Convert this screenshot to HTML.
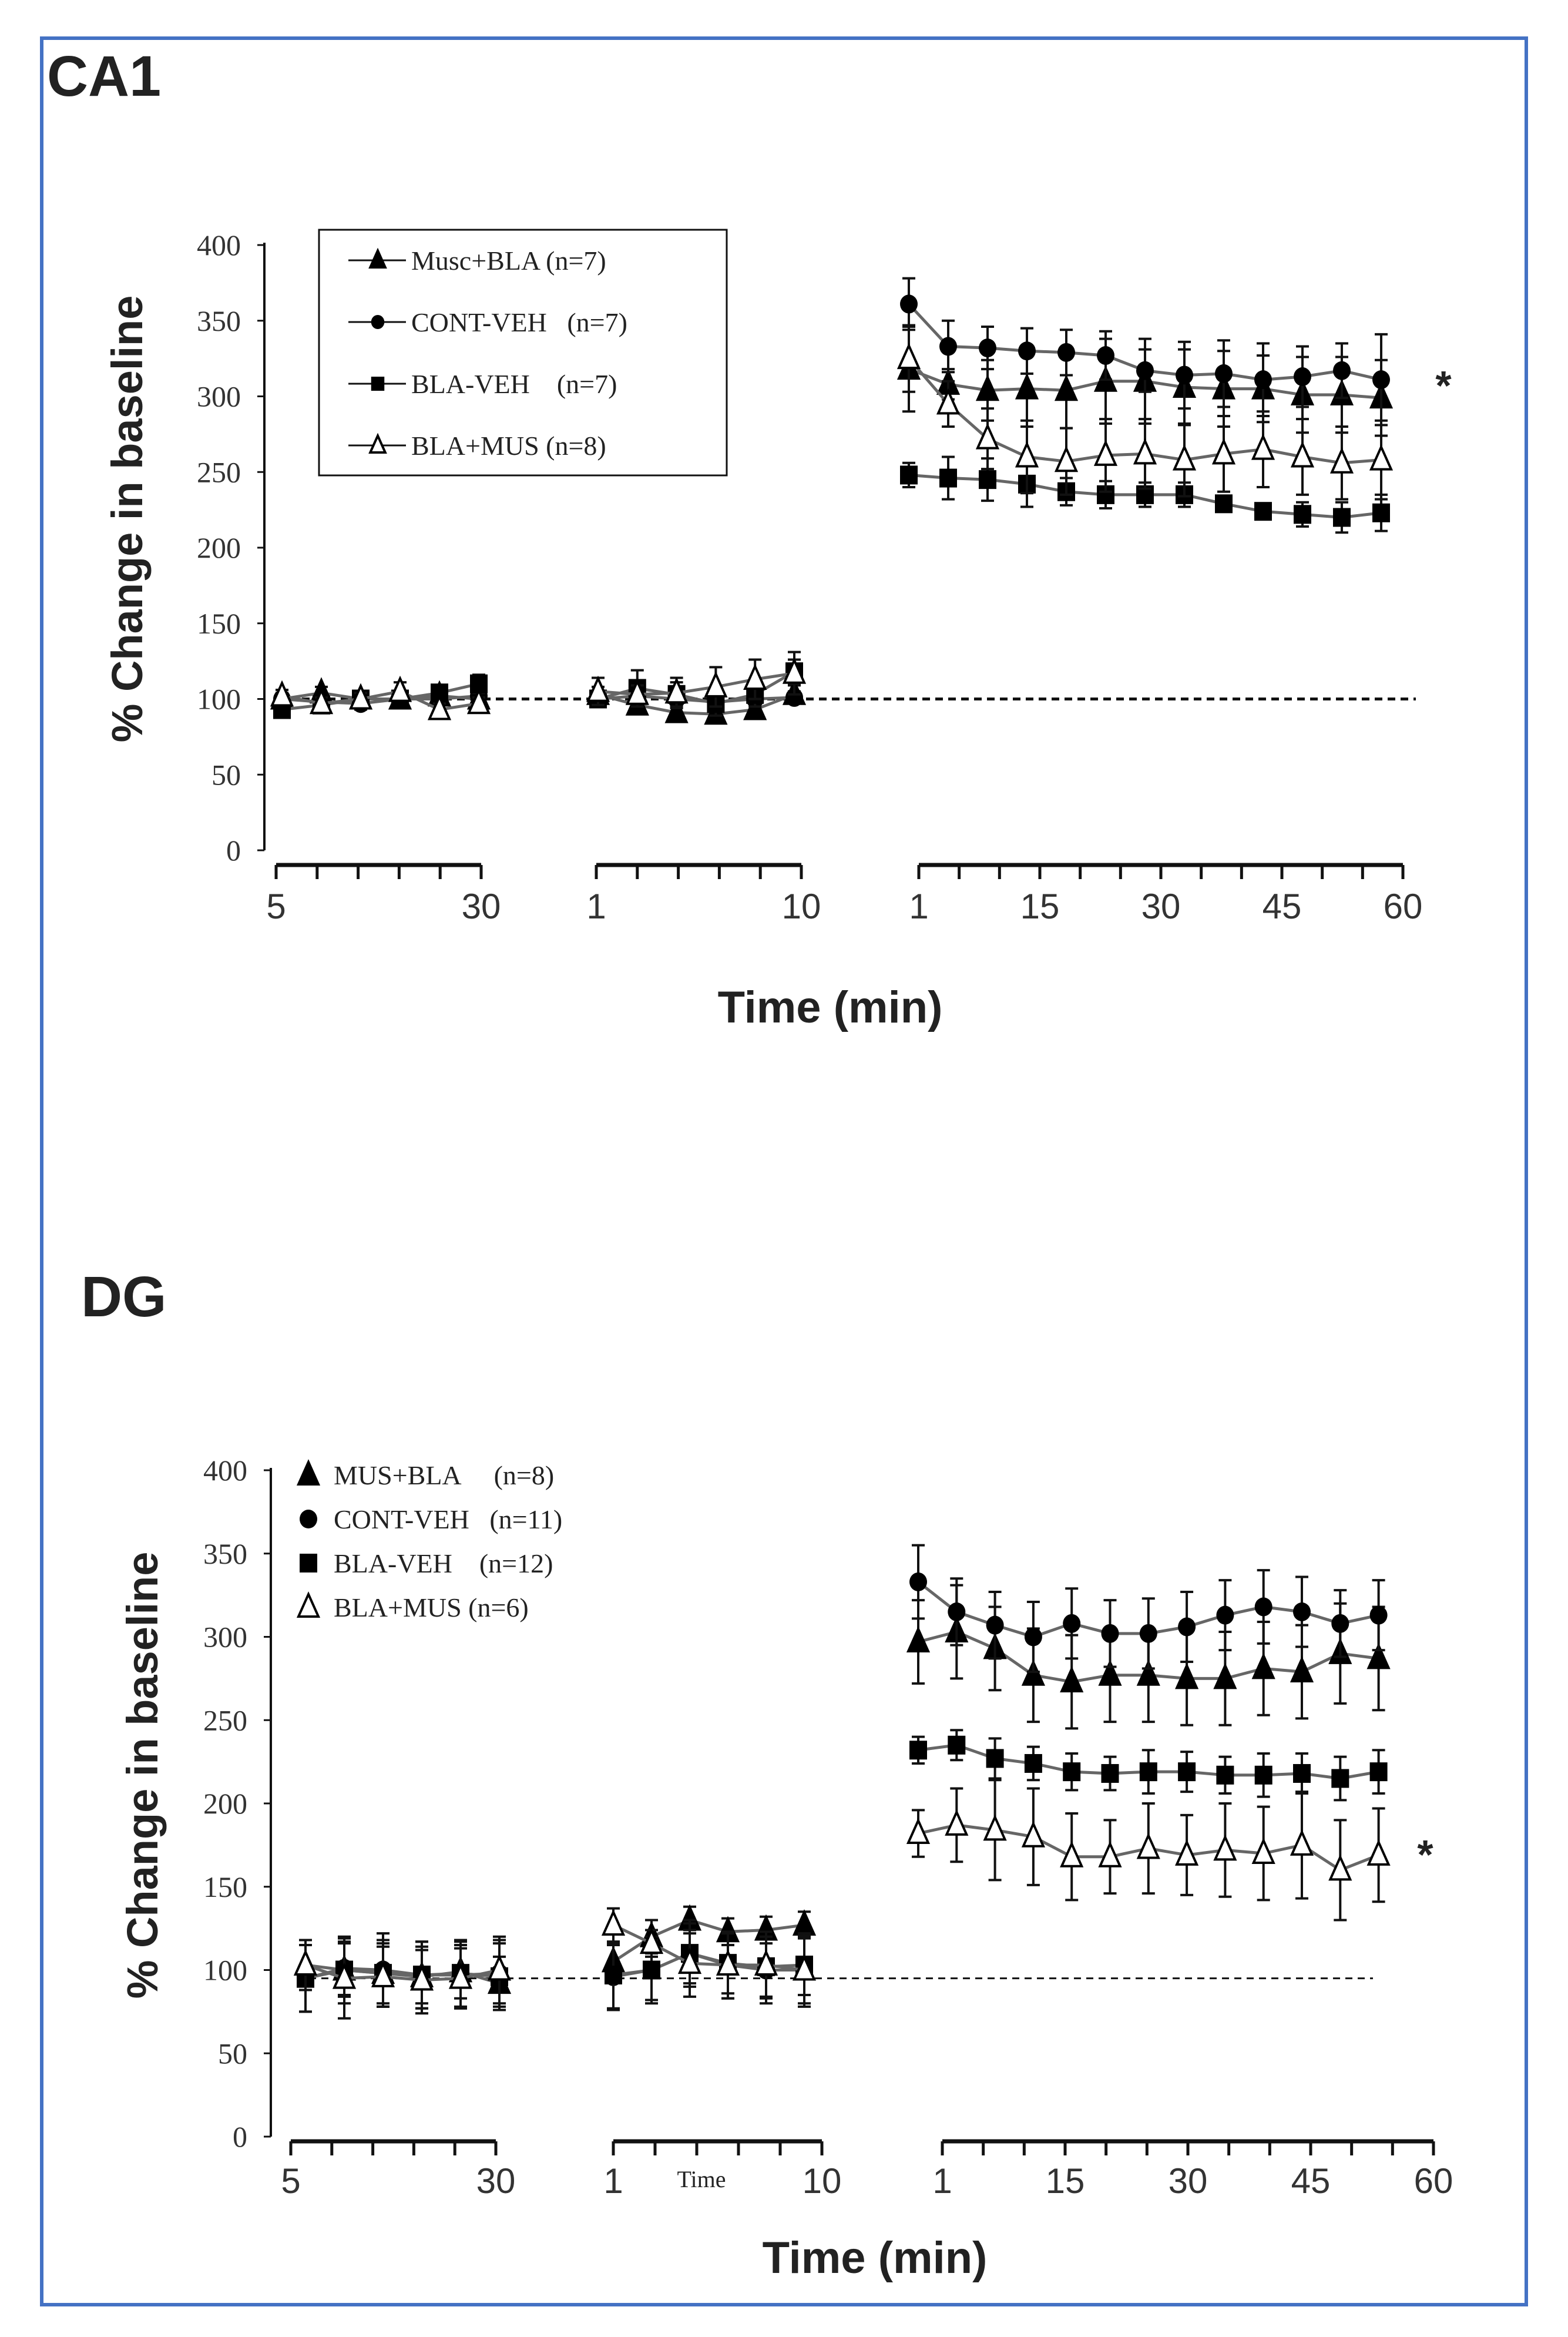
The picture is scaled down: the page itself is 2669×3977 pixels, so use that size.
<!DOCTYPE html>
<html><head><meta charset="utf-8"><style>
html,body{margin:0;padding:0;background:#fff;}
svg{display:block;}
.tick{font-family:"Liberation Serif",serif;font-size:50px;fill:#333;}
.xt{font-family:"Liberation Sans",sans-serif;font-size:60px;fill:#333;}
.leg{font-family:"Liberation Serif",serif;font-size:46px;fill:#222;white-space:pre;}
.ttl{font-family:"Liberation Sans",sans-serif;font-weight:bold;fill:#222;}
</style></head><body>
<svg id="fig" width="2669" height="3977" viewBox="0 0 2669 3977" xmlns="http://www.w3.org/2000/svg">
<rect x="71" y="65" width="2527" height="3857" fill="none" stroke="#4472c4" stroke-width="6"/>
<text x="80" y="163" class="ttl" font-size="97">CA1</text>
<text x="138" y="2240" class="ttl" font-size="97">DG</text>
<g id="ca1"></g>
<g id="dg"></g>
</svg>
<script>
// ---------- CA1 data (6 baseline pts, 6 pts, 13 post pts) ----------
const yTicks = [0,50,100,150,200,250,300,350,400];
const seg1Labels = ["5","30"];
const seg2Labels = ["1","10"];
const seg3Labels = ["1","15","30","45","60"];
const ca1Musc   = [100,104,100,100,102,100, 103,96,91,90,93,103, 318,308,304,305,304,310,310,306,305,305,301,301,299];
const ca1MuscErr= [4,4,4,4,4,4, 5,6,6,6,6,6, 28,10,20,25,25,28,28,25,25,22,25,25,25];
const ca1Cont   = [100,98,97,100,100,102, 100,102,100,98,100,101, 361,333,332,330,329,327,317,314,315,311,313,317,311];
const ca1ContErr= [4,4,4,4,4,4, 4,4,4,4,4,4, 17,17,14,15,15,16,14,22,22,24,20,18,30];
const ca1Bla    = [93,96,100,100,104,110, 100,107,103,97,103,118, 248,246,245,242,237,235,235,235,229,224,222,220,223];
const ca1BlaErr = [5,5,5,5,5,6, 5,12,8,8,8,8, 8,14,14,15,9,9,8,8,5,5,8,10,12];
const ca1BlaMus = [102,97,100,105,93,97, 105,103,104,108,113,117, 325,295,272,260,257,261,262,258,262,265,260,256,258];
const ca1BlaMusErr=[4,4,4,6,4,4, 9,6,10,13,13,14, 22,15,20,24,22,24,23,24,25,25,25,24,26];
// ---------- DG data ----------
const dgMus     = [103,100,98,96,99,92, 105,120,130,123,124,127, 297,303,293,277,273,277,277,275,275,281,279,290,287];
const dgMusErr  = [15,16,18,16,16,16, 10,10,8,8,8,8, 25,28,25,28,28,28,28,28,28,28,28,30,31];
const dgCont    = [95,101,100,97,97,98, 96,100,110,103,100,100, 333,315,307,300,308,302,302,306,313,318,315,308,313];
const dgContErr = [20,16,22,20,20,20, 20,20,20,20,20,20, 22,20,20,21,21,20,21,21,21,22,21,20,21];
const dgBla     = [95,100,98,97,98,96, 97,100,110,104,102,103, 232,235,227,224,219,218,219,219,217,217,218,215,219];
const dgBlaErr  = [20,20,20,20,20,20, 20,18,18,18,18,18, 8,9,12,10,11,10,13,12,11,13,12,13,13];
const dgBlaMus  = [103,95,96,94,95,100, 127,116,104,103,103,100, 182,187,184,180,168,168,173,169,172,170,175,160,169];
const dgBlaMusErr=[15,24,18,20,18,20, 10,8,20,20,20,22, 14,22,30,29,26,22,27,24,28,28,32,30,28];
const ca1Baseline = 100;
const dgBaseline = 95;
const ca1Legend = ["Musc+BLA (n=7)","CONT-VEH   (n=7)","BLA-VEH    (n=7)","BLA+MUS (n=8)"];
const dgLegend  = ["MUS+BLA     (n=8)","CONT-VEH   (n=11)","BLA-VEH    (n=12)","BLA+MUS (n=6)"];

const NS="http://www.w3.org/2000/svg";
function mk(parent,tag,attrs,text){
  const e=document.createElementNS(NS,tag);
  for(const k in attrs) e.setAttribute(k,attrs[k]);
  if(text!==undefined) e.textContent=text;
  parent.appendChild(e);return e;
}

function drawChart(g, cfg, series, baseline, legendLabels){
  const yScale=v=>cfg.y0-(v/400)*(cfg.y0-cfg.y400);
  const xScale=i=>{
    if(i<6) return cfg.p1+i*cfg.st1;
    if(i<12) return cfg.p2+(i-6)*cfg.st2;
    return cfg.p3+(i-12)*cfg.st3;
  };
  const ax=mk(g,'line',{x1:cfg.ax,y1:cfg.y400-4,x2:cfg.ax,y2:cfg.y0,stroke:'#111','stroke-width':4});
  
  
  yTicks.forEach(t=>{
    const y=yScale(t);
    const tk=mk(g,'line',{x1:cfg.ax-12,y1:y,x2:cfg.ax,y2:y,stroke:'#111','stroke-width':3});
    
    
    const lb=mk(g,'text',{x:cfg.ax-40,y:y+17,'text-anchor':'end',class:'tick'},String(t));
    
    
  });
  const segs=[[cfg.s1a,cfg.s1b,6,seg1Labels],[cfg.s2a,cfg.s2b,6,seg2Labels],[cfg.s3a,cfg.s3b,13,seg3Labels]];
  segs.forEach((s,si)=>{
    const bar=mk(g,'line',{x1:s[0],y1:cfg.xb,x2:s[1],y2:cfg.xb,stroke:'#111','stroke-width':7});
    
    
    for(let k=0;k<s[2];k++){
      const x=s[0]+k*(s[1]-s[0])/(s[2]-1);
      const t=mk(g,'line',{x1:x,y1:cfg.xb,x2:x,y2:cfg.xb+24,stroke:'#111','stroke-width':5});
      
      
    }
    const labs=s[3];
    labs.forEach((l,li)=>{
      const x=s[0]+li*(s[1]-s[0])/(labs.length-1);
      const tl=mk(g,'text',{x:x,y:cfg.xl,'text-anchor':'middle',class:'xt'},l);
      
      
    });
  });
  const bl=mk(g,'line',{x1:cfg.d1,y1:yScale(baseline),x2:cfg.d2,y2:yScale(baseline),stroke:'#111','stroke-width':cfg.dw,'stroke-dasharray':cfg.dash});
  
  
  series.forEach(sr=>{
    const sg=mk(g,'g',{});
    
    
    [[0,6],[6,12],[12,25]].forEach(r=>{
      let d='';
      for(let i=r[0];i<r[1];i++) d+=(i===r[0]?'M':'L')+xScale(i)+' '+yScale(sr.v[i]);
      const p=mk(sg,'path',{d:d,fill:'none',stroke:'#666','stroke-width':5});
      
      
    });
    sr.v.forEach((v,i)=>{
      const x=xScale(i),y=yScale(v),e=sr.e[i];
      const eb=mk(sg,'path',{d:`M${x} ${yScale(v-e)}L${x} ${yScale(v+e)}M${x-11} ${yScale(v+e)}L${x+11} ${yScale(v+e)}M${x-11} ${yScale(v-e)}L${x+11} ${yScale(v-e)}`,stroke:'#111','stroke-width':4,fill:'none'});
      
      
    });
    sr.v.forEach((v,i)=>{
      const m=marker(sg,sr.shape,xScale(i),yScale(v),1);
      
      
    });
  });
  if(cfg.box){
    const bx=mk(g,'rect',{x:cfg.box[0],y:cfg.box[1],width:cfg.box[2],height:cfg.box[3],fill:'none',stroke:'#111','stroke-width':3});
    
    
  }
  legendLabels.forEach((l,i)=>{
    const y=cfg.ly0+i*cfg.lstep;
    const lg=mk(g,'g',{});
    
    
    if(cfg.lline) mk(lg,'line',{x1:cfg.lm-50,y1:y,x2:cfg.lm+48,y2:y,stroke:'#111','stroke-width':3});
    marker(lg,series[i].shape,cfg.lm,y,cfg.lms);
    mk(lg,'text',{x:cfg.lt,y:y+16,class:'leg'},l);
  });
}
function marker(g,shape,x,y,s){
  if(shape==='circle') return mk(g,'ellipse',{cx:x,cy:y,rx:15*s,ry:16*s,fill:'#000'});
  if(shape==='square') return mk(g,'rect',{x:x-15*s,y:y-16*s,width:30*s,height:32*s,fill:'#000'});
  const fill=shape==='tri'?'#000':'#fff';
  return mk(g,'polygon',{points:`${x},${y-22*s} ${x+17*s},${y+16*s} ${x-17*s},${y+16*s}`,fill:fill,stroke:'#000','stroke-width':4});
}

const ca1Cfg={ax:450,y400:417,y0:1447,xb:1472,xl:1563,
  s1a:470,s1b:819,s2a:1015,s2b:1364,s3a:1564,s3b:2388,
  p1:480,st1:67,p2:1018,st2:66.8,p3:1547,st3:67,
  d1:470,d2:2410,dw:5,dash:'13 9',
  box:[543,391,694,418],ly0:443,lstep:105,lm:643,lms:0.75,lt:700,lline:true};
drawChart(document.getElementById('ca1'),ca1Cfg,[
  {name:'musc-bla',shape:'tri',v:ca1Musc,e:ca1MuscErr},
  {name:'cont-veh',shape:'circle',v:ca1Cont,e:ca1ContErr},
  {name:'bla-veh',shape:'square',v:ca1Bla,e:ca1BlaErr},
  {name:'bla-mus',shape:'open',v:ca1BlaMus,e:ca1BlaMusErr}],ca1Baseline,ca1Legend);

const dgCfg={ax:461,y400:2502,y0:3636,xb:3644,xl:3732,
  s1a:495,s1b:844,s2a:1044,s2b:1399,s3a:1604,s3b:2440,
  p1:520,st1:66,p2:1044,st2:65,p3:1563,st3:65.3,
  d1:505,d2:2337,dw:3,dash:'12 9',
  box:null,ly0:2510,lstep:75,lm:525,lms:1.0,lt:568,lline:false};
drawChart(document.getElementById('dg'),dgCfg,[
  {name:'mus-bla',shape:'tri',v:dgMus,e:dgMusErr},
  {name:'cont-veh',shape:'circle',v:dgCont,e:dgContErr},
  {name:'bla-veh',shape:'square',v:dgBla,e:dgBlaErr},
  {name:'bla-mus',shape:'open',v:dgBlaMus,e:dgBlaMusErr}],dgBaseline,dgLegend);
</script>
<div style="position:absolute;left:0;top:0;width:2669px;height:3977px;pointer-events:none">
<svg width="2669" height="3977" viewBox="0 0 2669 3977" xmlns="http://www.w3.org/2000/svg">
<text transform="translate(242,883) rotate(-90)" text-anchor="middle" class="ttl" font-size="74">% Change in baseline</text>
<text x="1413" y="1740" text-anchor="middle" class="ttl" font-size="76">Time (min)</text>
<text x="2457" y="680" text-anchor="middle" class="ttl" font-size="70">*</text>
<text transform="translate(268,3021) rotate(-90)" text-anchor="middle" class="ttl" font-size="74">% Change in baseline</text>
<text x="1489" y="3868" text-anchor="middle" class="ttl" font-size="76">Time (min)</text>
<text x="1194" y="3722" text-anchor="middle" font-family="Liberation Serif, serif" font-size="40" fill="#222">Time</text>
<text x="2426" y="3180" text-anchor="middle" class="ttl" font-size="70">*</text>
</svg></div>
</body></html>
